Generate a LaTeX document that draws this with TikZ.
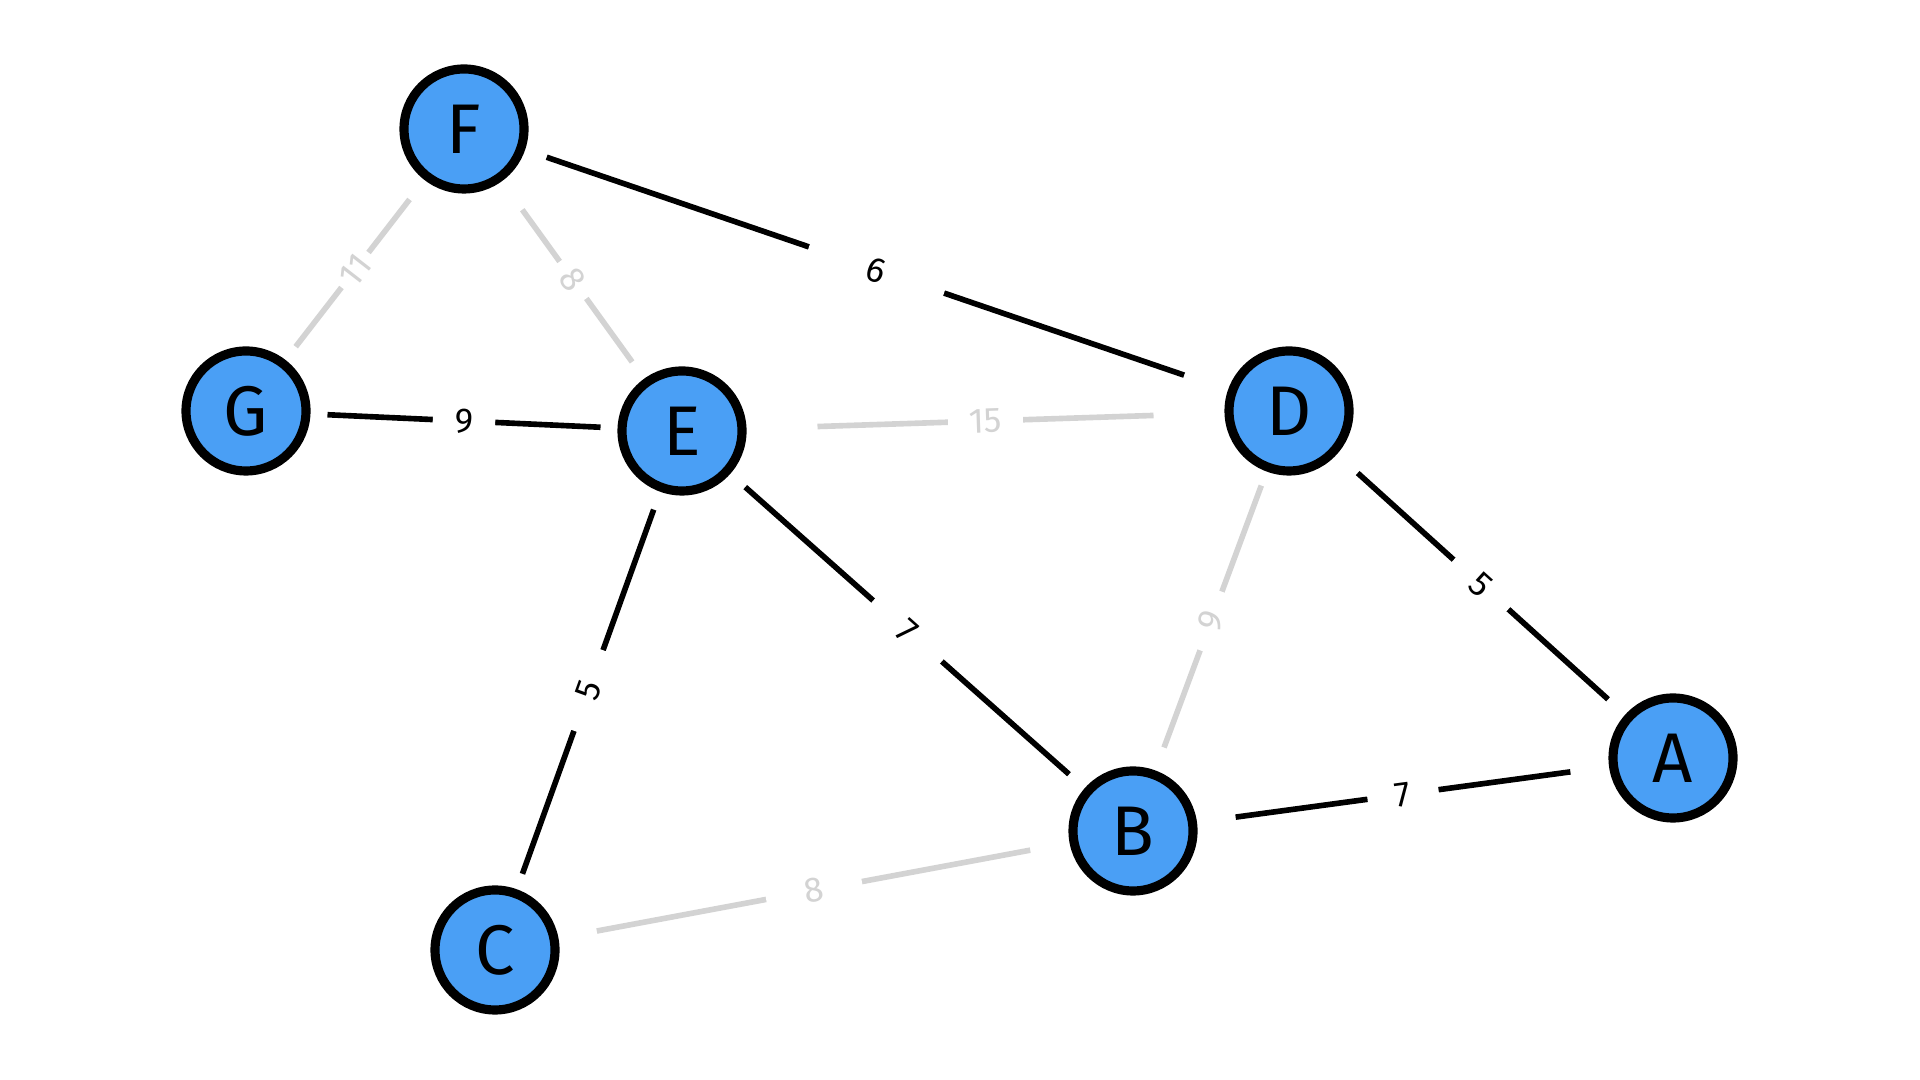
\documentclass[tikz,border=0pt]{standalone}
\usepackage{fontspec}
\setmainfont{Fira Sans}
\usepackage{xcolor}
\usetikzlibrary{positioning}
\definecolor{nodeblue}{RGB}{74,159,245}
\definecolor{edgegray}{RGB}{211,211,211}
\tikzset{
  vertex/.style={circle,draw=black,line width=2.6pt,fill=nodeblue,minimum size=1.2cm,inner sep=0pt,font=\fontsize{20}{22}\selectfont},
  link/.style={line width=1.6pt},
  mst/.style={link,draw=black},
  rest/.style={link,draw=edgegray},
  weight/.style={midway,sloped,fill=white,inner ysep=0.05cm,font=\fontsize{10}{12}\selectfont}
}
\begin{document}
\begin{tikzpicture}
\useasboundingbox (0,0) rectangle (19.2,10.8);
% vertices
\node[vertex] (F) at (4.64,9.51) {F};
\node[vertex] (G) at (2.46,6.69) {G};
\node[vertex] (E) at (6.82,6.49) {E};
\node[vertex] (D) at (12.89,6.69) {D};
\node[vertex] (A) at (16.73,3.22) {A};
\node[vertex] (B) at (11.33,2.49) {B};
\node[vertex] (C) at (4.95,1.30) {C};
% edges outside the tree (gray): from/to/weight/start gap/end gap/label gap
\foreach \a/\b/\w/\s/\t/\g in {F/G/11/0.245/0.167/0.07,F/E/8/0.35/0.206/0.13,
    E/D/15/0.71/0.71/0.21,D/B/9/0.15/0.245/0.22,C/B/8/0.39/0.40/0.39}{
  \draw[rest,shorten <=\s cm,shorten >=\t cm] (\a) -- node[weight,text=edgegray,inner xsep=\g cm] {\w} (\b);
}
% tree edges (black)
\foreach \a/\b/\w/\s/\t/\g in {F/D/6/0.228/0.463/0.62,G/E/9/0.17/0.17/0.22,
    E/C/5/0.19/0.164/0.34,E/B/7/0.20/0.21/0.38,D/A/5/0.28/0.23/0.28,B/A/7/0.39/0.39/0.28}{
  \draw[mst,shorten <=\s cm,shorten >=\t cm] (\a) -- node[weight,text=black,inner xsep=\g cm] {\w} (\b);
}
\end{tikzpicture}
\end{document}
